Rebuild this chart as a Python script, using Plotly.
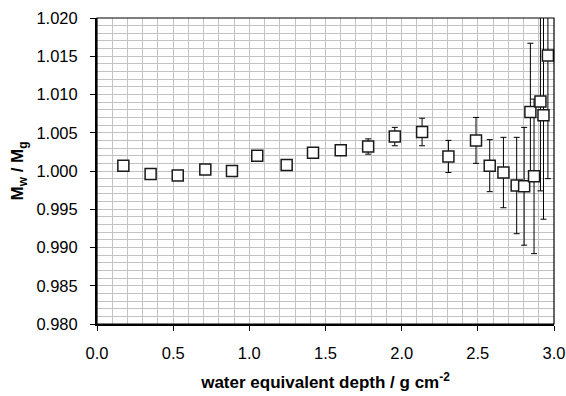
import plotly.graph_objects as go

depth = [0.173, 0.352, 0.530, 0.711, 0.886, 1.052, 1.245, 1.418, 1.600, 1.780,
         1.955, 2.134, 2.307, 2.488, 2.578, 2.668, 2.755, 2.804, 2.845, 2.869,
         2.911, 2.931, 2.960]
ratio = [1.0007, 0.9996, 0.9994, 1.0002, 1.0000, 1.0020, 1.0008, 1.0024, 1.0027, 1.0032,
         1.0045, 1.0051, 1.0019, 1.0040, 1.0007, 0.9998, 0.9981, 0.9980, 1.0077, 0.9993,
         1.0091, 1.0073, 1.0151]
err_plus = [0.0, 0.0, 0.0, 0.0, 0.0, 0.0001, 0.0001, 0.0004, 0.0003, 0.0010,
            0.0012, 0.0018, 0.0021, 0.0030, 0.0034, 0.0046, 0.0063, 0.0077, 0.0090, 0.0101,
            0.0117, 0.0136, 0.0058]
err_minus = [0.0, 0.0, 0.0, 0.0, 0.0, 0.0001, 0.0001, 0.0004, 0.0003, 0.0010,
             0.0012, 0.0018, 0.0021, 0.0030, 0.0034, 0.0046, 0.0063, 0.0077, 0.0090, 0.0101,
             0.0117, 0.0136, 0.0161]

x_ticks = [0.0, 0.5, 1.0, 1.5, 2.0, 2.5, 3.0]
x_ticklabels = ["0.0", "0.5", "1.0", "1.5", "2.0", "2.5", "3.0"]
y_ticks = [0.980, 0.985, 0.990, 0.995, 1.000, 1.005, 1.010, 1.015, 1.020]
y_ticklabels = ["0.980", "0.985", "0.990", "0.995", "1.000", "1.005", "1.010", "1.015", "1.020"]

FONT = "Liberation Sans, Arial, sans-serif"
GRID = "#c3c3c3"

fig = go.Figure()
fig.add_trace(go.Scatter(
    x=depth, y=ratio, mode="markers",
    marker=dict(symbol="square", size=11, color="white",
                line=dict(color="#1a1a1a", width=1.5)),
    error_y=dict(type="data", symmetric=False, array=err_plus, arrayminus=err_minus,
                 color="black", thickness=1, width=3),
    cliponaxis=False,
    showlegend=False,
))

fig.update_layout(
    width=566, height=396,
    margin=dict(l=97, r=12, t=18, b=72),
    paper_bgcolor="white", plot_bgcolor="white",
    font=dict(family=FONT, size=16.5, color="black"),
    xaxis=dict(
        range=[0, 3.0], tickvals=x_ticks, ticktext=x_ticklabels,
        showgrid=True, gridcolor=GRID, gridwidth=1,
        minor=dict(dtick=0.1, showgrid=True, gridcolor=GRID, gridwidth=1),
        ticks="outside", ticklen=5, tickcolor="black", tickwidth=1,
        showline=True, linecolor="black", linewidth=2,
        zeroline=False, ticklabelstandoff=8, automargin=False,
        title=dict(text="<b>water equivalent depth / g cm<sup>-2</sup></b>",
                   font=dict(size=17), standoff=15),
    ),
    yaxis=dict(
        range=[0.980, 1.020], tickvals=y_ticks, ticktext=y_ticklabels,
        showgrid=True, gridcolor=GRID, gridwidth=1,
        minor=dict(dtick=0.001, showgrid=True, gridcolor=GRID, gridwidth=1),
        ticks="outside", ticklen=5, tickcolor="black", tickwidth=1,
        showline=True, linecolor="black", linewidth=2,
        zeroline=False, ticklabelstandoff=9, automargin=False,
        title=dict(text="<b>M<sub>w</sub> / M<sub>g</sub></b>",
                   font=dict(size=17), standoff=8),
    ),
    shapes=[dict(type="rect", xref="paper", yref="paper", x0=0, y0=0, x1=1, y1=1,
                 line=dict(color="black", width=1.2), layer="above")],
)

fig.write_html("out.html")
